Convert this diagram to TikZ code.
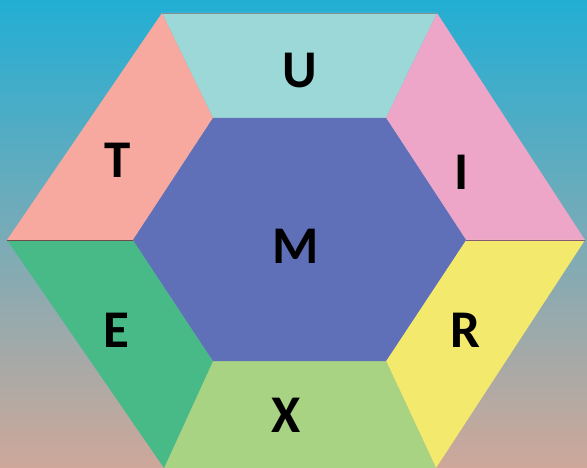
\documentclass[tikz,border=0pt]{standalone}
\usepackage{fontspec}
\setmainfont{Carlito}
\definecolor{bgtop}{RGB}{34,174,212}
\definecolor{bgmid}{RGB}{128,172,190}
\definecolor{bgbot}{RGB}{206,168,154}
\definecolor{cU}{RGB}{157,216,216}
\definecolor{cT}{RGB}{247,169,160}
\definecolor{cI}{RGB}{237,165,200}
\definecolor{cE}{RGB}{71,186,135}
\definecolor{cR}{RGB}{243,233,108}
\definecolor{cX}{RGB}{168,211,131}
\definecolor{cM}{RGB}{96,112,184}
\tikzset{
  lbl/.style={font=\fontsize{53}{60}\selectfont\bfseries, text=black, inner sep=0pt},
  seam/.style={line width=0.9pt}
}
\begin{document}
\begin{tikzpicture}[x=1pt,y=-1pt]
\useasboundingbox (0,0) rectangle (587,468);
\shade[top color=bgtop, middle color=bgmid, bottom color=bgbot] (0,0) rectangle (587,468);
% outer vertices
\coordinate (o1) at (162,13);
\coordinate (o2) at (437,13);
\coordinate (o3) at (585,240);
\coordinate (o4) at (436,468);
\coordinate (o5) at (164,468);
\coordinate (o6) at (7,240);
% inner vertices
\coordinate (i1) at (213,118);
\coordinate (i2) at (386,118);
\coordinate (i3) at (466,240);
\coordinate (i4) at (386,361);
\coordinate (i5) at (213,361);
\coordinate (i6) at (133,240);
% regions
\fill[cU] (o1) -- (o2) -- (i2) -- (i1) -- cycle;
\fill[cI] (o2) -- (o3) -- (i3) -- (i2) -- cycle;
\fill[cR] (o3) -- (o4) -- (i4) -- (i3) -- cycle;
\fill[cX] (o4) -- (o5) -- (i5) -- (i4) -- cycle;
\fill[cE] (o5) -- (o6) -- (i6) -- (i5) -- cycle;
\fill[cT] (o6) -- (o1) -- (i1) -- (i6) -- cycle;
\fill[cM] (i1) -- (i2) -- (i3) -- (i4) -- (i5) -- (i6) -- cycle;
% seams
\draw[seam, gray!80!cU] (o1) -- (o2);
\draw[seam, black!55!cT] (o6) -- (i6);
\draw[seam, black!45!cI] (i3) -- (o3);
% labels
\node[lbl] (U) at (299.5,71) {U};
\node[lbl] (T) at (118,160) {T};
\node[lbl] (I) at (462,172) {I};
\node[lbl] (M) at (296,246) {M};
\node[lbl] (E) at (116.5,330) {E};
\node[lbl] (R) at (465,330) {R};
\node[lbl] (X) at (286.5,415) {X};
\end{tikzpicture}
\end{document}
